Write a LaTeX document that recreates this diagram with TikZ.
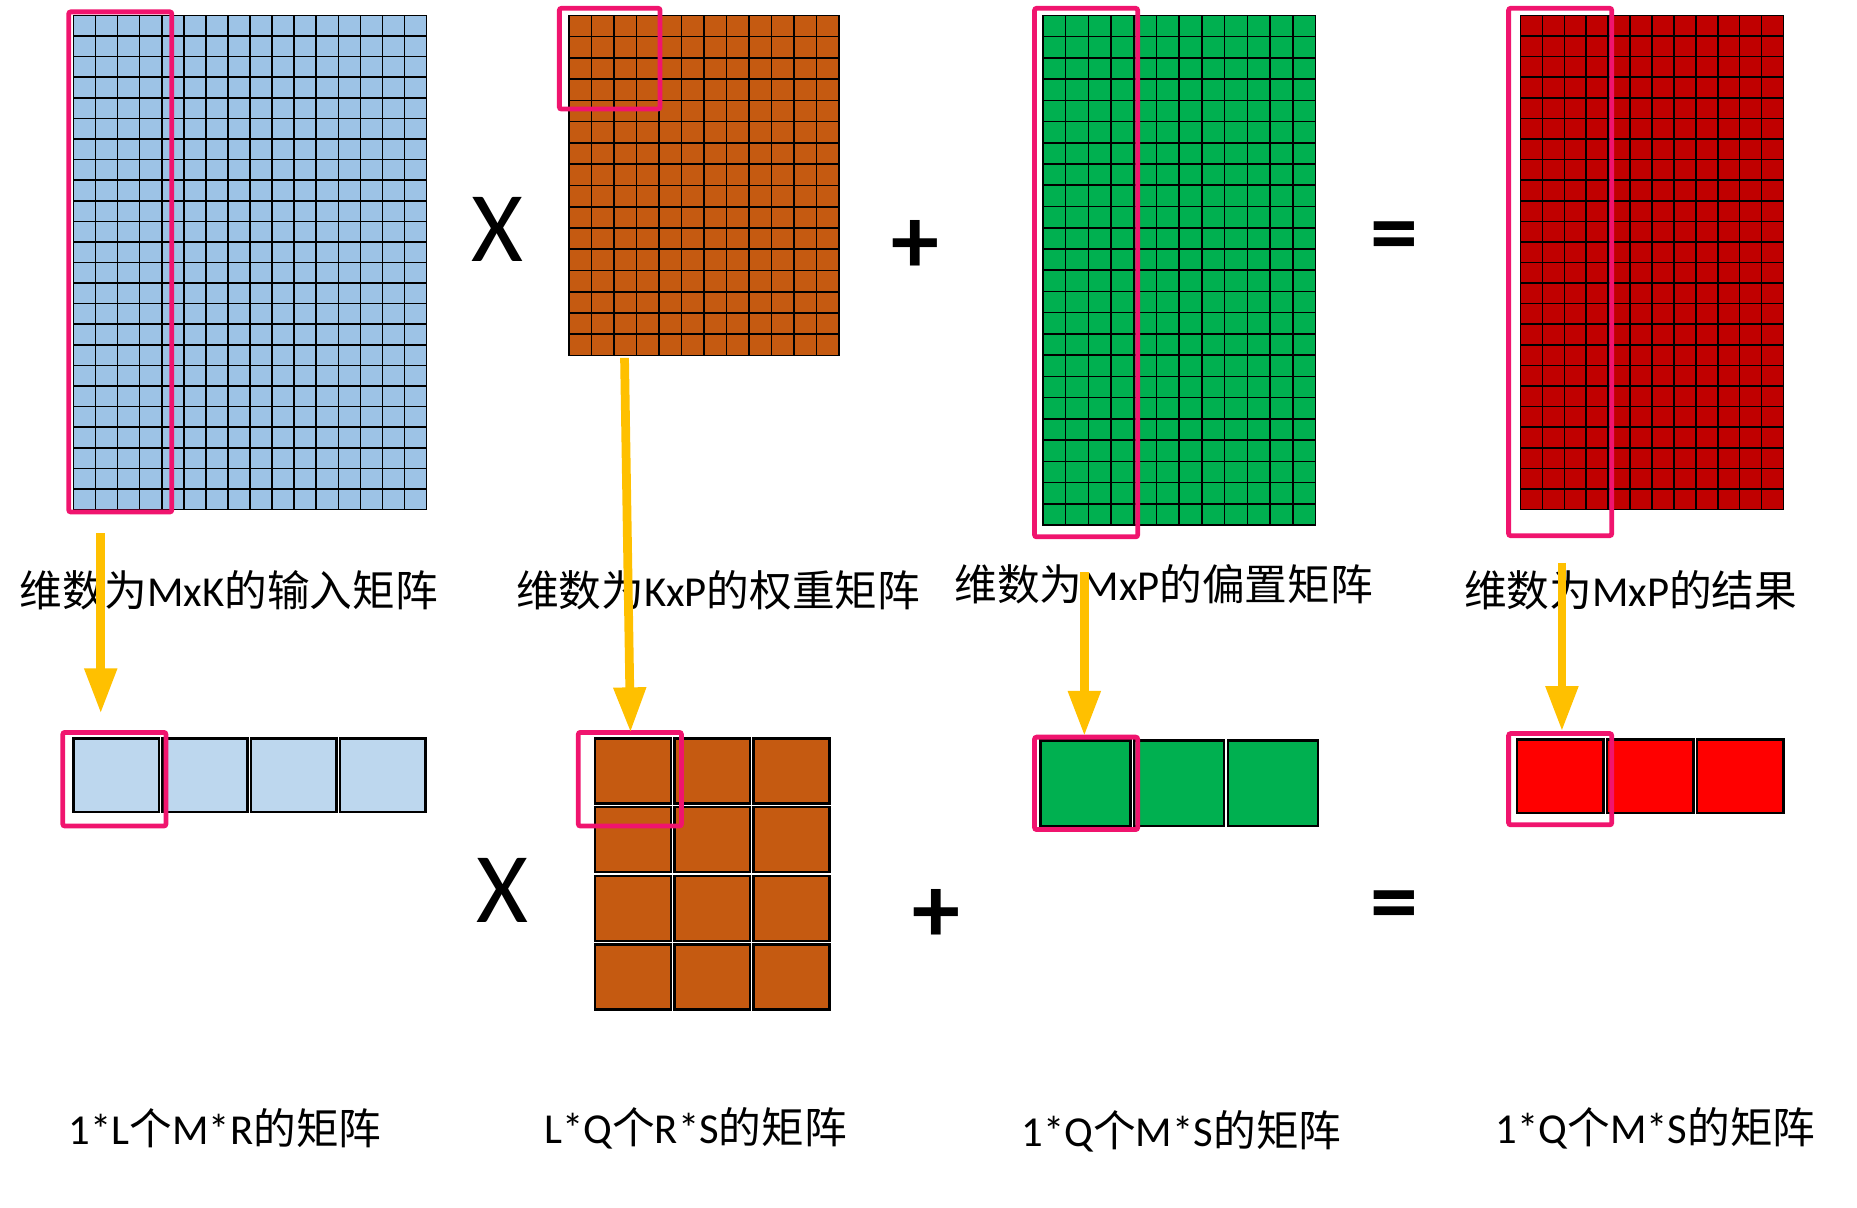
\documentclass[tikz,border=0pt]{standalone}
\usepackage{fontspec}
\setmainfont{Carlito}
\newfontfamily\cjk{Noto Sans CJK SC}
\usetikzlibrary{arrows.meta}
\definecolor{inblue}{RGB}{157,195,230}
\definecolor{inblue2}{RGB}{189,215,238}
\definecolor{wbrown}{RGB}{197,90,17}
\definecolor{bgreen}{RGB}{0,176,80}
\definecolor{rdark}{RGB}{192,0,0}
\definecolor{rbright}{RGB}{255,0,0}
\definecolor{selpink}{RGB}{240,20,110}
\definecolor{feedyel}{RGB}{255,192,0}
\tikzset{
  gridline/.style={draw=black, line width=0.75pt},
  cellbox/.style={draw=black, line width=1.2pt},
  selbox/.style={draw=selpink, line width=2.3pt, rounded corners=1pt},
  feed/.style={draw=feedyel, line width=4.2pt,
    -{Triangle[length=0.76cm,width=0.52cm]}},
  lbl/.style={font=\fontsize{20.5}{24}\selectfont, inner sep=0pt},
  opsign/.style={font=\fontsize{48}{54}\selectfont, inner sep=0pt},
  opbold/.style={font=\fontsize{46}{52}\selectfont\bfseries, inner sep=0pt}
}
\newcommand{\zh}[1]{{\cjk #1}}
% big grid: x0,y0 ; x1,y1 ; columns ; rows ; fill
\newcommand{\bigmat}[7]{
  \fill[#7] (#1,#2) rectangle (#3,#4);
  \foreach \i in {1,...,#5}
    \draw[gridline] ({#1+(#3-#1)*\i/#5},#2) -- ({#1+(#3-#1)*\i/#5},#4);
  \foreach \j in {1,...,#6}
    \draw[gridline] (#1,{#2+(#4-#2)*\j/#6}) -- (#3,{#2+(#4-#2)*\j/#6});
  \draw[gridline] (#1,#2) rectangle (#3,#4);
}
% block cells: x0,y0 ; cell w,h ; columns ; rows ; fill
\newcommand{\blockmat}[7]{
  \foreach \i in {1,...,#5}
    \foreach \j in {1,...,#6}
      \filldraw[cellbox, fill=#7]
        ({#1+(\i-1)*(#3+3)},{#2+(\j-1)*(#4+3)})
        rectangle ++(#3,#4);
}

\begin{document}
\begin{tikzpicture}[x=0.02cm, y=-0.02cm]
\useasboundingbox (0,0) rectangle (1567,1019);

% whole matrices
\bigmat{62}{13}{360}{430}{16}{24}{inblue}
\bigmat{480}{13}{708}{300}{12}{16}{wbrown}
\bigmat{880}{13}{1110}{443}{12}{24}{bgreen}
\bigmat{1283}{13}{1505}{430}{12}{24}{rdark}
\draw[selbox] (58,10) rectangle (145,432);
\draw[selbox] (472,7) rectangle (557,92);
\draw[selbox] (873,7) rectangle (960,453);
\draw[selbox] (1273,7) rectangle (1360,452);

\node[opsign] (mul1) at (420,194) {X};
\node[opbold] (add1) at (772,208) {+};
\node[opbold] (eq1) at (1177,205) {=};

\node[lbl] (inlbl) at (193,498) {\zh{维数为}MxK\zh{的输入矩阵}};
\node[lbl] (wlbl) at (606,498) {\zh{维数为}KxP\zh{的权重矩阵}};
\node[lbl] (blbl) at (982,493) {\zh{维数为}MxP\zh{的偏置矩阵}};
\node[lbl] (rlbl) at (1376,498) {\zh{维数为}MxP\zh{的结果}};

% blocks
\blockmat{62}{623}{72}{62}{4}{1}{inblue2}
\blockmat{502}{623}{64}{55}{3}{4}{wbrown}
\blockmat{878}{625}{76}{72}{3}{1}{bgreen}
\blockmat{1280}{624}{73}{62}{3}{1}{rbright}
\draw[selbox] (53,618) rectangle (140,697);
\draw[selbox] (488,618) rectangle (575,697);
\draw[selbox] (873,622) rectangle (960,700);
\draw[selbox] (1273,619) rectangle (1360,696);

\node[opsign] (mul2) at (424,751) {X};
\node[opbold] (add2) at (790,773) {+};
\node[opbold] (eq2) at (1177,770) {=};

\node[lbl] (inblk) at (190,952) {1*L\zh{个}M*R\zh{的矩阵}};
\node[lbl] (wblk) at (587,952) {L*Q\zh{个}R*S\zh{的矩阵}};
\node[lbl] (bblk) at (997,955) {1*Q\zh{个}M*S\zh{的矩阵}};
\node[lbl] (rblk) at (1397,952) {1*Q\zh{个}M*S\zh{的矩阵}};

% feed arrows
\coordinate (ins) at (85,450);   \coordinate (ine) at (85,602);
\coordinate (ws) at (527,302);   \coordinate (we) at (532,618);
\coordinate (bs) at (915,483);   \coordinate (be) at (915,621);
\coordinate (rs) at (1318,475);  \coordinate (re) at (1318,617);
\draw[feed] (ins) -- (ine);
\draw[feed] (ws) -- (we);
\draw[feed] (bs) -- (be);
\draw[feed] (rs) -- (re);
\end{tikzpicture}
\end{document}
